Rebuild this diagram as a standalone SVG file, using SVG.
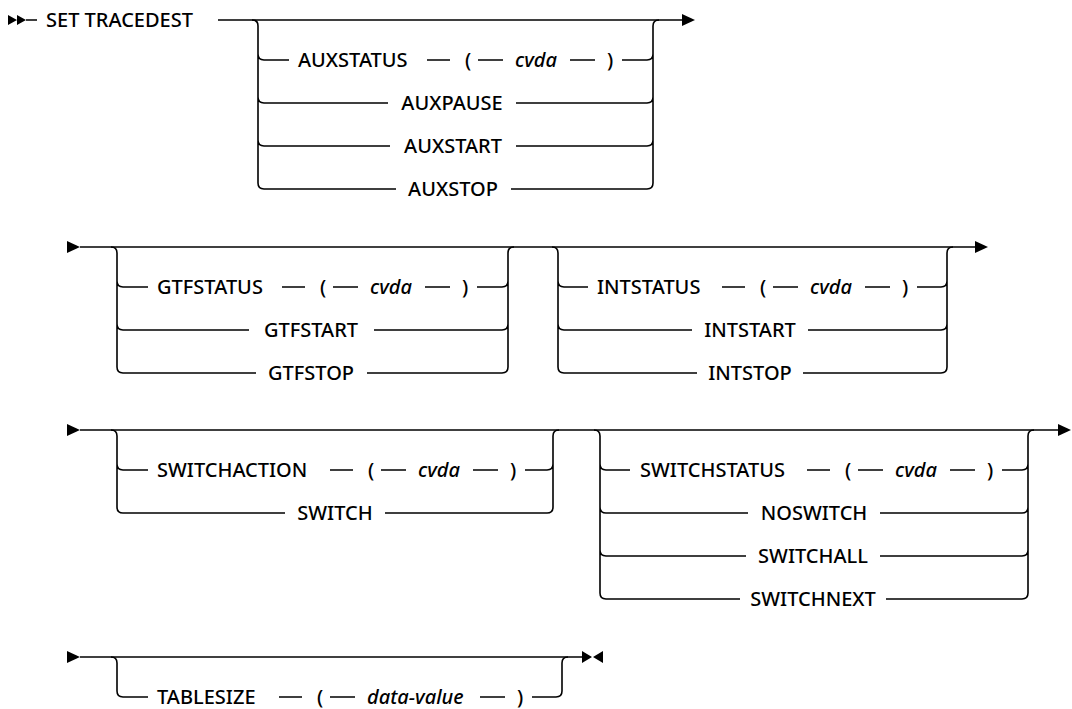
<svg xmlns="http://www.w3.org/2000/svg" width="1072" height="709" viewBox="0 0 1072 709">
<style>
.ln{fill:none;stroke:#000;stroke-width:1.6}
.ah{fill:#000;stroke:none}
text{font-family:"Noto Sans","Liberation Sans",sans-serif;font-size:20px;font-weight:500;fill:#000}
.v{font-style:italic}
.c{text-anchor:middle}
</style>
<rect width="1072" height="709" fill="#fff"/>
<g id="connectors">
<!-- row 1 -->
<path class="ah" d="M8,15 L17,20 L8,25 Z M17,15 L26,20 L17,25 Z"/>
<path class="ln" d="M26,20 H37 M218,20 H682"/>
<path class="ah" d="M682,14 L695,20 L682,26 Z"/>
<path class="ln" d="M252,20 Q258,20 258,26 V183 Q258,189 264,189 M258,54 Q258,60 264,60 M258,97 Q258,103 264,103 M258,140 Q258,146 264,146"/>
<path class="ln" d="M647,189 Q653,189 653,183 V26 Q653,20 659,20 M647,60 Q653,60 653,54 M647,103 Q653,103 653,97 M647,146 Q653,146 653,140"/>
<path class="ln" d="M264,60 H289 M427,60 H450 M478,60 H503 M570,60 H595 M622,60 H647"/>
<path class="ln" d="M264,103 H388 M516,103 H647"/>
<path class="ln" d="M264,146 H390 M516,146 H647"/>
<path class="ln" d="M264,189 H396 M511,189 H647"/>
<!-- row 2 -->
<path class="ah" d="M67,241 L80,247 L67,253 Z"/>
<path class="ln" d="M80,247 H975"/>
<path class="ah" d="M975,241 L988,247 L975,253 Z"/>
<path class="ln" d="M111,247 Q117,247 117,253 V367 Q117,373 123,373 M117,281 Q117,287 123,287 M117,324 Q117,330 123,330"/>
<path class="ln" d="M502,373 Q508,373 508,367 V253 Q508,247 514,247 M502,287 Q508,287 508,281 M502,330 Q508,330 508,324"/>
<path class="ln" d="M123,287 H148 M282,287 H305 M333,287 H358 M425,287 H450 M477,287 H502"/>
<path class="ln" d="M123,330 H249 M374,330 H502"/>
<path class="ln" d="M123,373 H256 M367,373 H502"/>
<path class="ln" d="M552,247 Q558,247 558,253 V367 Q558,373 564,373 M558,281 Q558,287 564,287 M558,324 Q558,330 564,330"/>
<path class="ln" d="M941,373 Q947,373 947,367 V253 Q947,247 953,247 M941,287 Q947,287 947,281 M941,330 Q947,330 947,324"/>
<path class="ln" d="M564,287 H588 M722,287 H745 M773,287 H798 M865,287 H890 M917,287 H941"/>
<path class="ln" d="M564,330 H692 M808,330 H941"/>
<path class="ln" d="M564,373 H697 M803,373 H941"/>
<!-- row 3 -->
<path class="ah" d="M67,424 L80,430 L67,436 Z"/>
<path class="ln" d="M80,430 H1058"/>
<path class="ah" d="M1058,424 L1071,430 L1058,436 Z"/>
<path class="ln" d="M111,430 Q117,430 117,436 V507 Q117,513 123,513 M117,464 Q117,470 123,470"/>
<path class="ln" d="M547,513 Q553,513 553,507 V436 Q553,430 559,430 M547,470 Q553,470 553,464"/>
<path class="ln" d="M123,470 H148 M330,470 H353 M381,470 H406 M473,470 H498 M525,470 H547"/>
<path class="ln" d="M123,513 H285 M385,513 H547"/>
<path class="ln" d="M594,430 Q600,430 600,436 V593 Q600,599 606,599 M600,464 Q600,470 606,470 M600,507 Q600,513 606,513 M600,550 Q600,556 606,556"/>
<path class="ln" d="M1022,599 Q1028,599 1028,593 V436 Q1028,430 1034,430 M1022,470 Q1028,470 1028,464 M1022,513 Q1028,513 1028,507 M1022,556 Q1028,556 1028,550"/>
<path class="ln" d="M606,470 H630 M807,470 H830 M858,470 H883 M950,470 H975 M1002,470 H1022"/>
<path class="ln" d="M606,513 H748 M880,513 H1022"/>
<path class="ln" d="M606,556 H746 M880,556 H1022"/>
<path class="ln" d="M606,599 H740 M886,599 H1022"/>
<!-- row 4 -->
<path class="ah" d="M67,651 L80,657 L67,663 Z"/>
<path class="ln" d="M80,657 H582"/>
<path class="ah" d="M582,651 L592,657 L582,663 Z M603,651 L593,657 L603,663 Z"/>
<path class="ln" d="M111,657 Q117,657 117,663 V691 Q117,697 123,697"/>
<path class="ln" d="M556,697 Q562,697 562,691 V663 Q562,657 568,657"/>
<path class="ln" d="M123,697 H148 M279,697 H302 M330,697 H355 M480,697 H505 M532,697 H556"/>
</g>
<g id="n-settracedest"><text x="46" y="27">SET TRACEDEST</text></g>
<g id="n-auxstatus"><text x="298" y="67">AUXSTATUS</text><text x="465" y="67">(</text><text class="v" x="515" y="67">cvda</text><text x="607" y="67">)</text></g>
<g id="n-auxpause"><text class="c" x="452" y="110">AUXPAUSE</text></g>
<g id="n-auxstart"><text class="c" x="453" y="153">AUXSTART</text></g>
<g id="n-auxstop"><text class="c" x="453" y="196">AUXSTOP</text></g>
<g id="n-gtfstatus"><text x="157" y="294">GTFSTATUS</text><text x="320" y="294">(</text><text class="v" x="370" y="294">cvda</text><text x="462" y="294">)</text></g>
<g id="n-gtfstart"><text class="c" x="311" y="337">GTFSTART</text></g>
<g id="n-gtfstop"><text class="c" x="311" y="380">GTFSTOP</text></g>
<g id="n-intstatus"><text x="597" y="294">INTSTATUS</text><text x="760" y="294">(</text><text class="v" x="810" y="294">cvda</text><text x="902" y="294">)</text></g>
<g id="n-intstart"><text class="c" x="750" y="337">INTSTART</text></g>
<g id="n-intstop"><text class="c" x="750" y="380">INTSTOP</text></g>
<g id="n-switchaction"><text x="157" y="477">SWITCHACTION</text><text x="368" y="477">(</text><text class="v" x="418" y="477">cvda</text><text x="510" y="477">)</text></g>
<g id="n-switch"><text class="c" x="335" y="520">SWITCH</text></g>
<g id="n-switchstatus"><text x="640" y="477">SWITCHSTATUS</text><text x="845" y="477">(</text><text class="v" x="895" y="477">cvda</text><text x="987" y="477">)</text></g>
<g id="n-noswitch"><text class="c" x="814" y="520">NOSWITCH</text></g>
<g id="n-switchall"><text class="c" x="813" y="563">SWITCHALL</text></g>
<g id="n-switchnext"><text class="c" x="813" y="606">SWITCHNEXT</text></g>
<g id="n-tablesize"><text x="157" y="704">TABLESIZE</text><text x="317" y="704">(</text><text class="v" x="367" y="704">data-value</text><text x="517" y="704">)</text></g>
</svg>
